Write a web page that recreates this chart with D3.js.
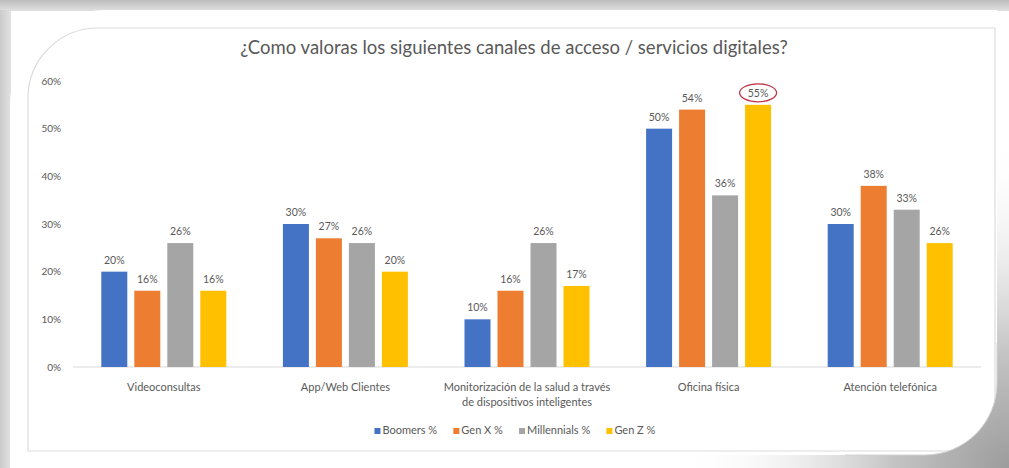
<!DOCTYPE html>
<html>
<head>
<meta charset="utf-8">
<script src="https://cdn.jsdelivr.net/npm/d3@7"></script>
<style>
  html, body { margin: 0; padding: 0; background: #ffffff; }
  svg { display: block; }
  text { font-family: Lato, "Open Sans", "Liberation Sans", sans-serif; }
</style>
</head>
<body>
<svg id="chart" width="1009" height="468"></svg>
<script>
// ---- data ----
const categories = [
  "Videoconsultas",
  "App/Web Clientes",
  "Monitorización de la salud a través de dispositivos inteligentes",
  "Oficina física",
  "Atención telefónica"
];
const categoryLines = [
  ["Videoconsultas"],
  ["App/Web Clientes"],
  ["Monitorización de la salud a través", "de dispositivos inteligentes"],
  ["Oficina física"],
  ["Atención telefónica"]
];
const seriesNames = ["Boomers %", "Gen X %", "Millennials %", "Gen Z %"];
const boomers     = [0.20, 0.30, 0.10, 0.50, 0.30];
const genX        = [0.16, 0.27, 0.16, 0.54, 0.38];
const millennials = [0.26, 0.26, 0.26, 0.36, 0.33];
const genZ        = [0.16, 0.20, 0.17, 0.55, 0.26];
const yTicks = [0, 0.1, 0.2, 0.3, 0.4, 0.5, 0.6];
const titleText = "¿Como valoras los siguientes canales de acceso / servicios digitales?";
// the value that gets a circle drawn round its label
const highlight = { series: "Gen Z %", category: "Oficina física" };

const seriesValues = [boomers, genX, millennials, genZ];
const colors = ["#4472C4", "#ED7D31", "#A5A5A5", "#FFC000"];
const textColor = "#595959";

const W = 1009, H = 468;
const svg = d3.select("#chart");
const defs = svg.append("defs");

// ---- photo-style frame ----
const topGrad = defs.append("linearGradient").attr("id", "topGrad")
  .attr("x1", 0).attr("y1", 0).attr("x2", 0).attr("y2", 1);
topGrad.append("stop").attr("offset", "0%").attr("stop-color", "#bcbcbc");
topGrad.append("stop").attr("offset", "100%").attr("stop-color", "#e0e0e0");
const leftGrad = defs.append("linearGradient").attr("id", "leftGrad")
  .attr("x1", 0).attr("y1", 0).attr("x2", 1).attr("y2", 0);
leftGrad.append("stop").attr("offset", "0%").attr("stop-color", "#cbcbcb");
leftGrad.append("stop").attr("offset", "100%").attr("stop-color", "#e2e2e2");
const cornerShade = defs.append("radialGradient").attr("id", "cornerShade")
  .attr("gradientUnits", "userSpaceOnUse")
  .attr("cx", 1009).attr("cy", 468).attr("r", 330);
cornerShade.append("stop").attr("offset", "0%").attr("stop-color", "#9c9c9c").attr("stop-opacity", 1);
cornerShade.append("stop").attr("offset", "35%").attr("stop-color", "#c4c4c4").attr("stop-opacity", 1);
cornerShade.append("stop").attr("offset", "100%").attr("stop-color", "#ffffff").attr("stop-opacity", 0);

svg.append("rect").attr("width", W).attr("height", H).attr("fill", "#ffffff");
svg.append("rect").attr("width", W).attr("height", H).attr("fill", "url(#cornerShade)");
svg.append("rect").attr("width", W).attr("height", 11).attr("fill", "url(#topGrad)");
svg.append("rect").attr("y", 10).attr("width", 11).attr("height", H).attr("fill", "url(#leftGrad)");

const cardL = 10, cardT = 10, cardR = 997, cardB = 455, rTL = 95, rBR = 72;
const cardPath = `M${cardL},${H + 20} L${cardL},${cardT + rTL} A${rTL},${rTL} 0 0 1 ${cardL + rTL},${cardT}
  L${cardR},${cardT}
  L${cardR},${cardB - rBR} A${rBR},${rBR} 0 0 1 ${cardR - rBR},${cardB}
  L${cardL + 2},${cardB} L${cardL + 2},${H + 20} Z`;
svg.append("path").attr("d", cardPath).attr("fill", "#ffffff");
// bottom strip under the card stays light on the left
const stripGrad = defs.append("linearGradient").attr("id", "stripGrad")
  .attr("x1", 0).attr("y1", 0).attr("x2", 1).attr("y2", 0);
stripGrad.append("stop").attr("offset", "0%").attr("stop-color", "#ffffff").attr("stop-opacity", 1);
stripGrad.append("stop").attr("offset", "100%").attr("stop-color", "#ffffff").attr("stop-opacity", 0);
svg.append("rect").attr("x", cardL + 2).attr("y", cardB).attr("width", 820).attr("height", H - cardB)
  .attr("fill", "url(#stripGrad)");
svg.append("path")
  .attr("d", `M${cardR},${cardB - rBR - 40} L${cardR},${cardB - rBR} A${rBR},${rBR} 0 0 1 ${cardR - rBR},${cardB} L${cardR - rBR - 80},${cardB}`)
  .attr("fill", "none").attr("stroke", "#d2d2d2").attr("stroke-width", 1);

defs.append("clipPath").attr("id", "cardClip").append("path").attr("d", cardPath);

// chart area outline
const bL = 28, bT = 28, bR = 995, bB = 451, rIn = 70;
svg.append("path")
  .attr("clip-path", "url(#cardClip)")
  .attr("d", `M${bL},${bB} L${bL},${bT + rIn} A${rIn},${rIn} 0 0 1 ${bL + rIn},${bT}
    L${bR},${bT} L${bR},${bB} Z`)
  .attr("fill", "none").attr("stroke", "#dcdcdc").attr("stroke-width", 1.2);

// ---- scales ----
const plotLeft = 73, plotRight = 981;
const x0 = d3.scaleBand().domain(categories).range([plotLeft, plotRight]).paddingInner(0).paddingOuter(0);
const groupSpan = 125;
const off = (x0.bandwidth() - groupSpan) / 2;
const x1 = d3.scaleBand().domain(seriesNames).range([off, off + groupSpan])
  .paddingInner(7 / 33).paddingOuter(0);
const y = d3.scaleLinear().domain([0, 0.6]).range([367, 81]);
const pct = d3.format(".0%");

// ---- title ----
svg.append("text")
  .attr("x", 514).attr("y", 54)
  .attr("text-anchor", "middle")
  .attr("font-size", 18.5)
  .attr("fill", textColor)
  .text(titleText);

// ---- y axis (labels only, no line) ----
const yAxis = d3.axisLeft(y).tickValues(yTicks).tickFormat(pct).tickSize(0).tickPadding(0);
const yg = svg.append("g").attr("transform", "translate(61,0)").call(yAxis);
yg.select(".domain").remove();
yg.selectAll("text").attr("fill", textColor).attr("font-size", 10)
  .style("font-family", "Lato, 'Open Sans', sans-serif");

// baseline
svg.append("line")
  .attr("x1", plotLeft).attr("x2", plotRight)
  .attr("y1", y(0)).attr("y2", y(0))
  .attr("stroke", "#d9d9d9").attr("stroke-width", 1);

// ---- bars ----
const rows = categories.map((c, i) => ({
  category: c,
  values: seriesNames.map((s, j) => ({ series: s, value: seriesValues[j][i], color: colors[j] }))
}));

const groups = svg.append("g").selectAll("g.group")
  .data(rows).join("g")
  .attr("class", "group")
  .attr("transform", d => `translate(${x0(d.category)},0)`);

groups.selectAll("rect")
  .data(d => d.values).join("rect")
  .attr("x", d => x1(d.series))
  .attr("width", x1.bandwidth())
  .attr("y", d => y(d.value))
  .attr("height", d => y(0) - y(d.value))
  .attr("fill", d => d.color);

groups.selectAll("text.val")
  .data(d => d.values).join("text")
  .attr("class", "val")
  .attr("x", d => x1(d.series) + x1.bandwidth() / 2)
  .attr("y", d => y(d.value) - 8)
  .attr("text-anchor", "middle")
  .attr("font-size", 10.5)
  .attr("fill", textColor)
  .text(d => pct(d.value));

// red ring round the highlighted label
{
  const ci = categories.indexOf(highlight.category);
  const si = seriesNames.indexOf(highlight.series);
  const v = seriesValues[si][ci];
  const cx = x0(highlight.category) + x1(highlight.series) + x1.bandwidth() / 2;
  const cy = y(v) - 12;
  svg.append("ellipse")
    .attr("cx", cx).attr("cy", cy).attr("rx", 18.5).attr("ry", 9)
    .attr("fill", "none").attr("stroke", "#c0394a").attr("stroke-width", 1.3);
}

// ---- category labels ----
const catG = svg.append("g").selectAll("text.cat")
  .data(categories).join("text")
  .attr("class", "cat")
  .attr("x", d => x0(d) + x0.bandwidth() / 2)
  .attr("y", 391)
  .attr("text-anchor", "middle")
  .attr("font-size", 11)
  .attr("fill", textColor);
catG.each(function (d, i) {
  d3.select(this).selectAll("tspan")
    .data(categoryLines[i]).join("tspan")
    .attr("x", x0(d) + x0.bandwidth() / 2)
    .attr("dy", (t, k) => k === 0 ? 0 : 15)
    .text(t => t);
});

// ---- legend ----
const legend = svg.append("g");
const items = legend.selectAll("g").data(seriesNames).join("g");
items.append("rect").attr("width", 6).attr("height", 6).attr("y", -6)
  .attr("fill", (d, i) => colors[i]);
items.append("text").attr("x", 8).attr("y", 0)
  .attr("font-size", 11).attr("fill", textColor).text(d => d);
let cursor = 0;
items.each(function () {
  const w = this.getBBox().width;
  d3.select(this).attr("transform", `translate(${cursor},0)`);
  cursor += w + 16;
});
const legendW = cursor - 16;
legend.attr("transform", `translate(${515 - legendW / 2},434)`);
</script>
</body>
</html>
